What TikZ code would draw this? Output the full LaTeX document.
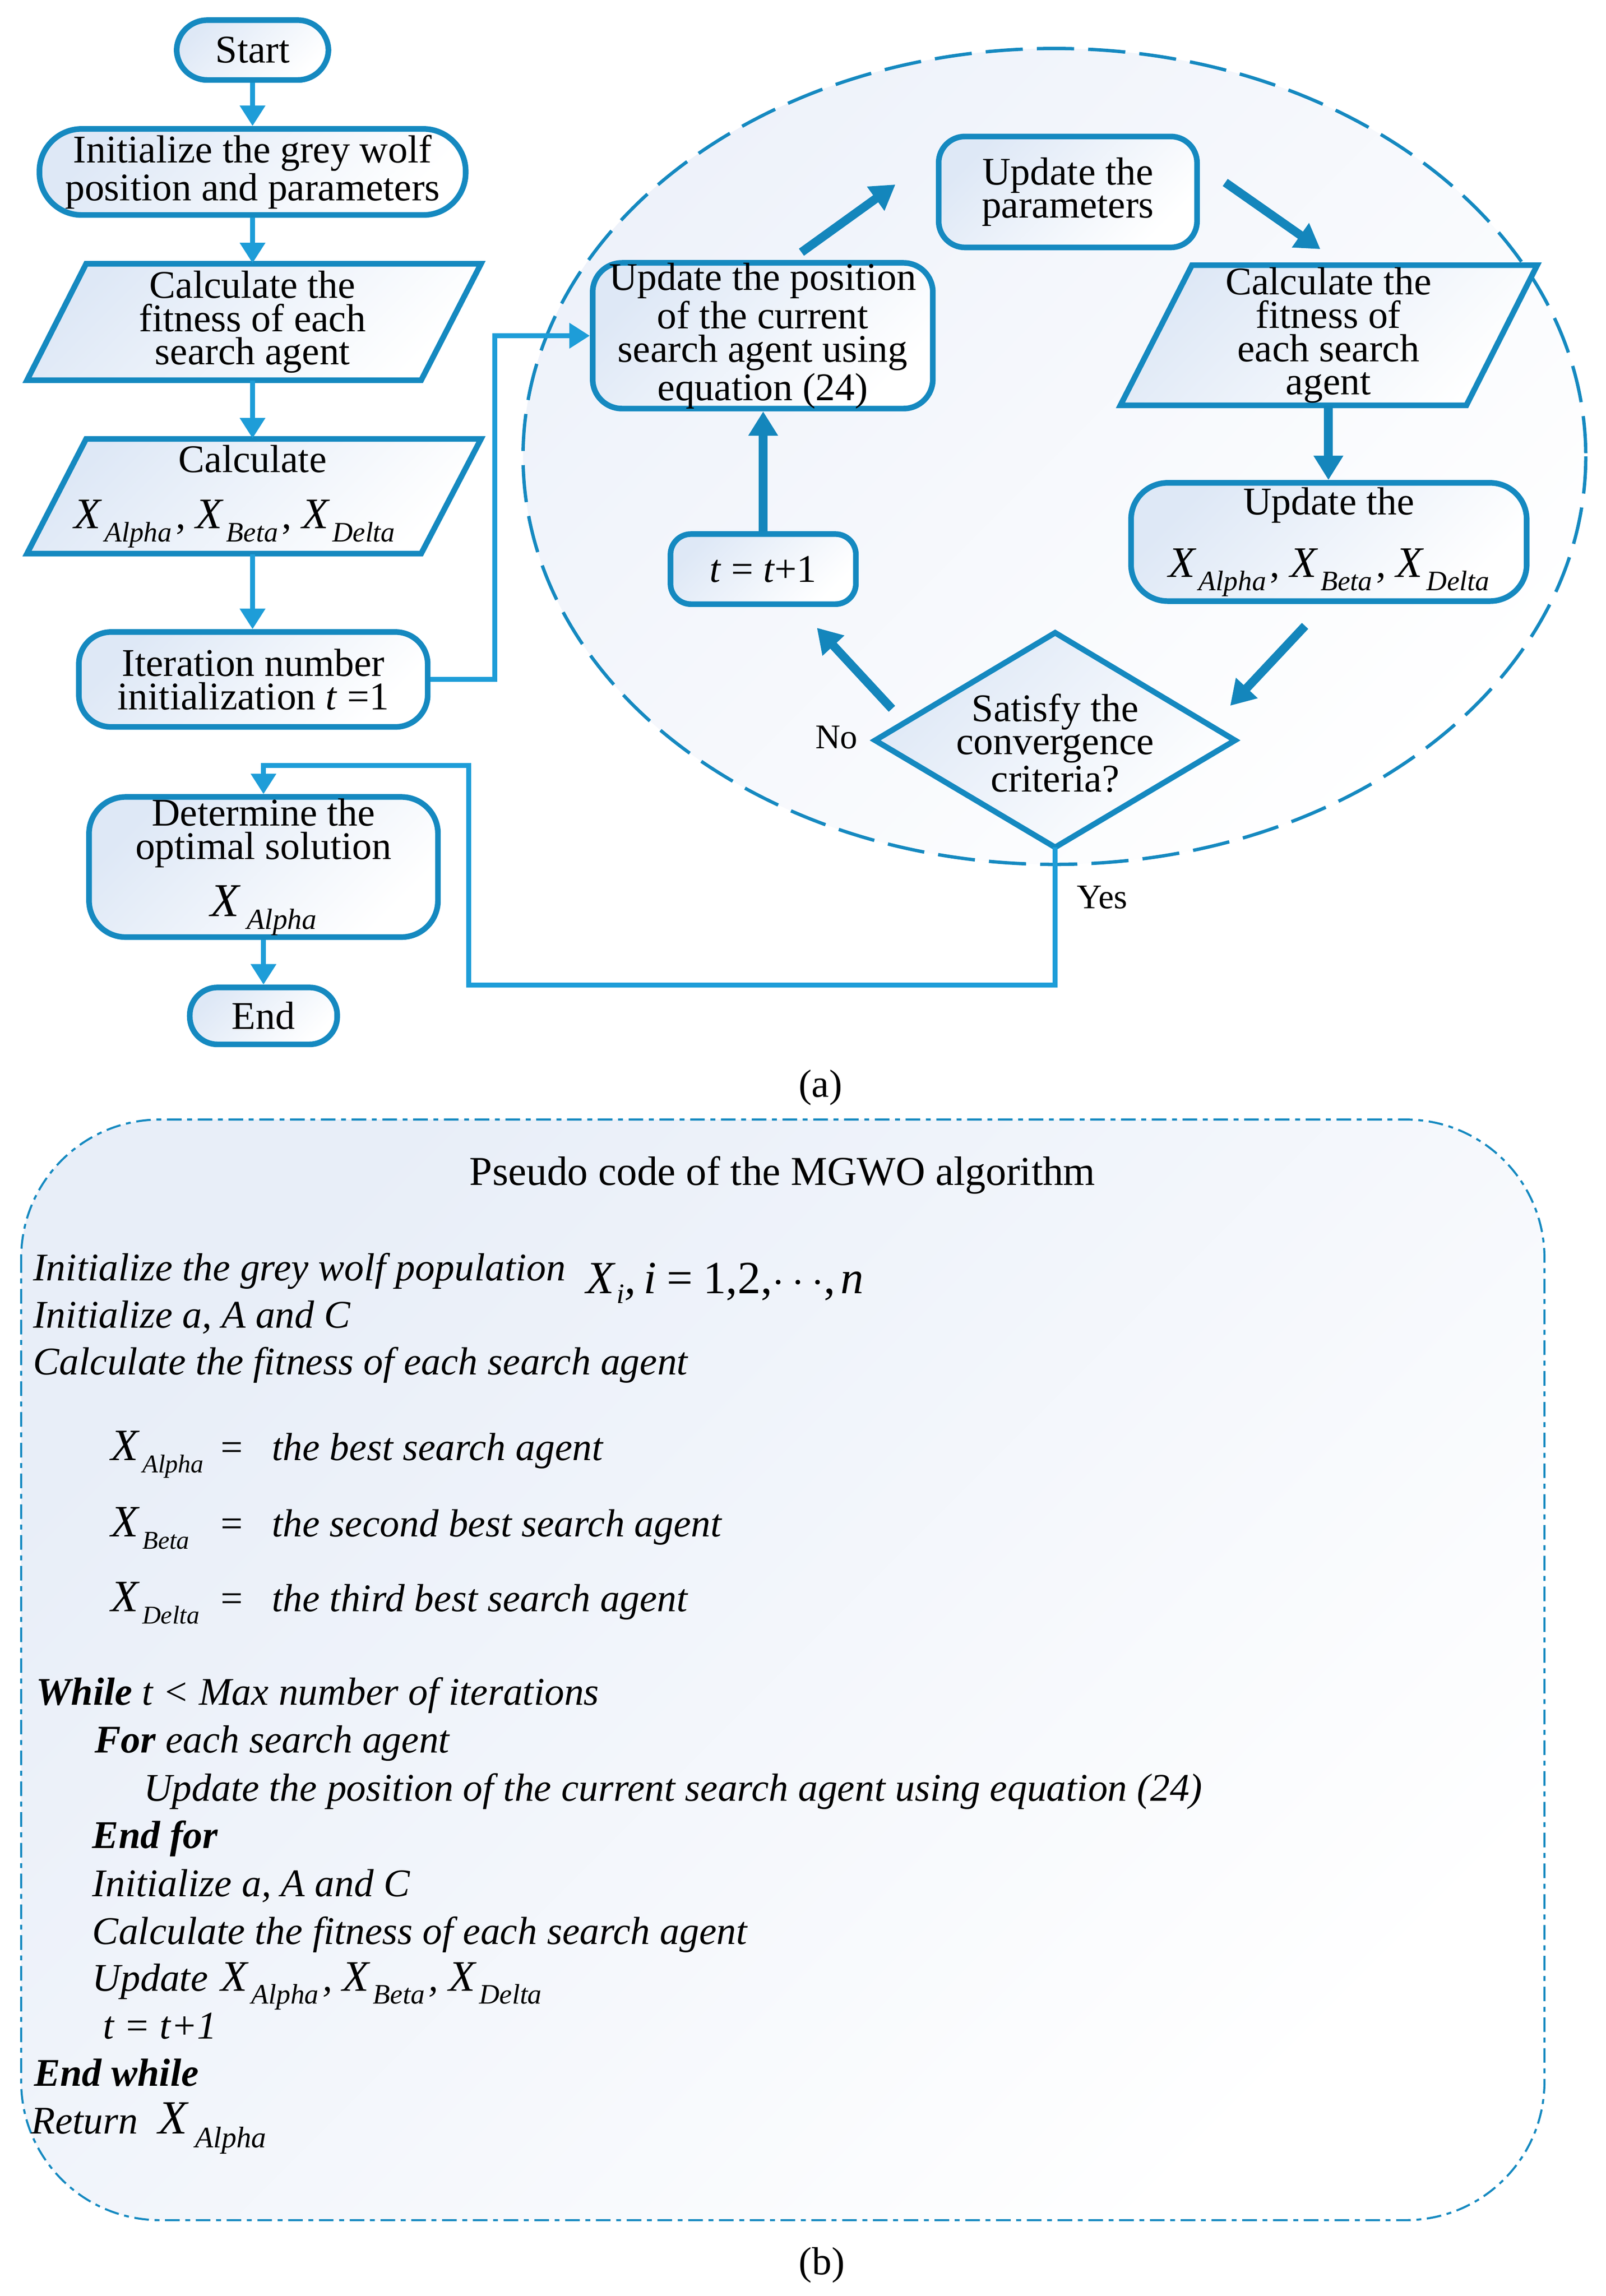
\documentclass[tikz,border=0pt]{standalone}
\usepackage{fontspec}
\setmainfont{Liberation Serif}
\usetikzlibrary{arrows.meta,calc}
\definecolor{bord}{RGB}{21,137,192}
\definecolor{connc}{RGB}{30,157,216}
\definecolor{thk}{RGB}{20,134,188}
\definecolor{boxf}{RGB}{222,232,246}
\definecolor{ellf}{RGB}{238,242,250}
\definecolor{pcf}{RGB}{232,238,248}
\newcommand{\dpx}{*0.02cm}
\newcommand{\fcfont}{\fontsize{15.3}{13}\selectfont}
\newcommand{\pcfont}{\fontsize{15.3}{18}\selectfont\itshape}
\newcommand{\XS}[1]{{\fontsize{17}{17}\selectfont\itshape X}\kern1.5pt\raisebox{-5pt}{\fontsize{11}{11}\selectfont\itshape #1}}
\newcommand{\XL}[1]{{\fontsize{18.4}{18.4}\selectfont\itshape X}\kern3pt\raisebox{-5pt}{\fontsize{11.4}{11.4}\selectfont\itshape #1}}
\newcommand{\XM}[1]{{\fontsize{17.5}{17.5}\selectfont\itshape X}\kern1.5pt\raisebox{-4.8pt}{\fontsize{10}{10}\selectfont\itshape #1}}
\newcommand{\XR}[1]{{\fontsize{18.6}{18.6}\selectfont\itshape X}\kern3pt\raisebox{-5.4pt}{\fontsize{11.6}{11.6}\selectfont\itshape #1}}
\newcommand{\XT}{\XS{Alpha}\kern1.5pt,\kern4pt\XS{Beta}\kern1.5pt,\kern4pt\XS{Delta}}
\tikzset{
  shadebox/.style={top color=boxf, middle color=white, bottom color=white, shading angle=45},
  fcbox/.style={draw=bord, line width=2.2pt, shadebox, align=center, inner sep=0pt, font=\fcfont},
  pgram/.style={draw=bord, line width=2.2pt, shadebox, line join=miter},
  txt/.style={align=center, inner sep=0pt, font=\fcfont},
  cline/.style={draw=connc, line width=2pt, -{Triangle[length=8pt,width=9.5pt]}},
  bigarr/.style={draw=thk, line width=3.4pt, -{Triangle[length=9.5pt,width=11pt]}},
  pc/.style={anchor=base west, inner sep=0pt, font=\pcfont},
  lbl/.style={anchor=base, inner sep=0pt, font=\fontsize{13.5}{13.5}\selectfont}
}
\begin{document}
\begin{tikzpicture}[x=0.02cm,y=-0.02cm]
\useasboundingbox (0,0) rectangle (1100,1573);

% ---------- (a) flowchart ----------
\path[draw=bord, line width=1.3pt, dash pattern=on 14.5pt off 5.5pt,
  top color=ellf, middle color=ellf!30!white, bottom color=white, shading angle=45]
  (722.3,312.7) ellipse [x radius=364, y radius=279.5];

\node[fcbox, rounded corners=21\dpx, minimum width=104\dpx, minimum height=41\dpx] (start) at (173,34.3) {Start};
\node[fcbox, rounded corners=29\dpx, minimum width=292\dpx, minimum height=59\dpx] (init) at (173,117.8)
  {Initialize the grey wolf\\position and parameters};

\path[pgram] (18.5,260.5) -- (59,180.7) -- (329.5,180.7) -- (288.5,260.5) -- cycle;
\node[txt, minimum width=230\dpx, minimum height=79.8\dpx] (calc1) at (173,220.6)
  {Calculate the\\fitness of each\\search agent};

\path[pgram] (18.5,379.3) -- (59,300.7) -- (329.5,300.7) -- (288.5,379.3) -- cycle;
\node[txt, minimum width=230\dpx, minimum height=78.6\dpx] (calc2) at (173,340)
  {Calculate\\[9pt]\hspace*{-14pt}\XT};

\node[fcbox, rounded corners=22\dpx, minimum width=239\dpx, minimum height=65\dpx] (iter) at (173.5,465.5)
  {Iteration number\\initialization \textit{t} =1};

\node[fcbox, rounded corners=25\dpx, minimum width=239\dpx, minimum height=96\dpx] (determ) at (180.5,594)
  {Determine the\\optimal solution\\[6pt]\XL{Alpha}};
\node[fcbox, rounded corners=19\dpx, minimum width=101\dpx, minimum height=39\dpx] (end) at (180.5,696) {End};

\node[fcbox, rounded corners=20\dpx, minimum width=233\dpx, minimum height=96\dpx] (upos) at (522.5,230)
  {Update the position\\of the current\\search agent using\\equation (24)};
\node[fcbox, rounded corners=18\dpx, minimum width=177\dpx, minimum height=76\dpx] (upar) at (731.5,131.5)
  {Update the\\parameters};

\path[pgram] (767.5,277.7) -- (816.5,181.7) -- (1053,181.7) -- (1004.5,277.7) -- cycle;
\node[txt, minimum width=200\dpx, minimum height=96\dpx] (calcR) at (910,229.7)
  {Calculate the\\fitness of\\each search\\agent};

\node[fcbox, rounded corners=25\dpx, minimum width=271\dpx, minimum height=81\dpx] (updX) at (910.3,371.3)
  {Update the\\[9pt]\XT};
\node[fcbox, rounded corners=14\dpx, minimum width=127\dpx, minimum height=48\dpx] (tinc) at (522.8,389.9)
  {\textit{t} = \textit{t}+1};

\coordinate (dtop) at (722.8,433.5);
\coordinate (dleft) at (599.5,507.2);
\coordinate (dright) at (846,507.2);
\coordinate (dbot) at (722.8,580.5);
\path[pgram] (dtop) -- (dright) -- (dbot) -- (dleft) -- cycle;
\node[txt] (dia) at (722.8,509) {Satisfy the\\convergence\\criteria?};

\node[lbl] (no) at (573,512.7) {No};
\node[lbl] (yes) at (755,622.4) {Yes};

% thin connectors
\draw[cline] (start.south) -- (start.south |- init.north);
\draw[cline] (init.south) -- (init.south |- calc1.north);
\draw[cline] (calc1.south) -- (calc1.south |- calc2.north);
\draw[cline] (calc2.south) -- (calc2.south |- iter.north);
\draw[cline] (iter.east) -- ++(44,0) |- (upos.west);
\coordinate (y1) at (321,674.8);
\coordinate (y2) at (321,524.5);
\draw[cline] (dbot) |- (y1) -- (y2) -| (determ.north);
\draw[cline] (determ.south) -- (determ.south |- end.north);

% thick arrows
\coordinate (a1s) at (549,172.8);  \coordinate (a1e) at (613.4,126.4);
\coordinate (a2s) at (839.3,125);  \coordinate (a2e) at (904.5,170.7);
\coordinate (a4s) at (894,428.8);  \coordinate (a4e) at (842.7,483.5);
\coordinate (a5s) at (611,485.6);  \coordinate (a5e) at (559.6,430.1);
\draw[bigarr] (a1s) -- (a1e);
\draw[bigarr] (a2s) -- (a2e);
\draw[bigarr] (calcR.south) -- (calcR.south |- updX.north);
\draw[bigarr] (a4s) -- (a4e);
\draw[bigarr] (a5s) -- (a5e);
\draw[bigarr] (tinc.north) -- (tinc.north |- upos.south);

\node[txt] (capa) at (562,745) {(a)};

% ---------- (b) pseudo code ----------
\path[draw=bord, line width=0.8pt, dash pattern=on 5.7pt off 2.2pt on 1.9pt off 2.2pt,
  rounded corners=1.9cm, top color=pcf, middle color=pcf!30!white, bottom color=white, shading angle=45]
  (14.5,767) rectangle (1058,1521);

\node[anchor=base, inner sep=0pt, font=\fontsize{16}{16}\selectfont] (ptitle) at (536,811.8)
  {Pseudo code of the MGWO algorithm};

\node[pc] (l1) at (22.4,877.5) {Initialize the grey wolf population};
\node[pc] (l1m) at (401,886) {{\fontsize{18}{18}\selectfont X}\kern1pt\raisebox{-4pt}{\fontsize{11}{11}\selectfont i}{\fontsize{18}{18}\selectfont,\kern3pt i\kern4pt\upshape=\kern4pt1,2,$\cdots$,\kern2pt\itshape n}};
\node[pc] (l2) at (22.4,909.6) {Initialize a, A and C};
\node[pc] (l3) at (22.4,941.8) {Calculate the fitness of each search agent};

\node[pc] (xa) at (75.8,1000.5) {\XM{Alpha}};
\node[pc] (ea) at (150.8,1000.5) {\upshape =};
\node[pc] (ta) at (186,1000.5) {the best search agent};
\node[pc] (xb) at (75.8,1052.8) {\XM{Beta}};
\node[pc] (eb) at (150.8,1052.8) {\upshape =};
\node[pc] (tb) at (186,1052.8) {the second best search agent};
\node[pc] (xd) at (75.8,1104) {\XM{Delta}};
\node[pc] (ed) at (150.8,1104) {\upshape =};
\node[pc] (td) at (186,1104) {the third best search agent};

\node[pc] (w1) at (24.6,1168.2) {\textbf{While} t < Max number of iterations};
\node[pc] (w2) at (64.5,1200.9) {\textbf{For} each search agent};
\node[pc] (w3) at (98.2,1234) {Update the position of the current search agent using equation (24)};
\node[pc] (w4) at (63,1266.1) {\textbf{End for}};
\node[pc] (w5) at (63,1299.3) {Initialize a, A and C};
\node[pc] (w6) at (63,1331.9) {Calculate the fitness of each search agent};
\node[pc] (w7) at (63,1364) {Update\kern5pt\XT};
\node[pc] (w8) at (70.2,1396.6) {t = t+1};
\node[pc] (w9) at (23,1429.2) {\textbf{End while}};
\node[pc] (w10) at (21,1461.8) {Return\kern8pt\XR{Alpha}};

\node[txt] (capb) at (563,1552) {(b)};
\end{tikzpicture}
\end{document}
